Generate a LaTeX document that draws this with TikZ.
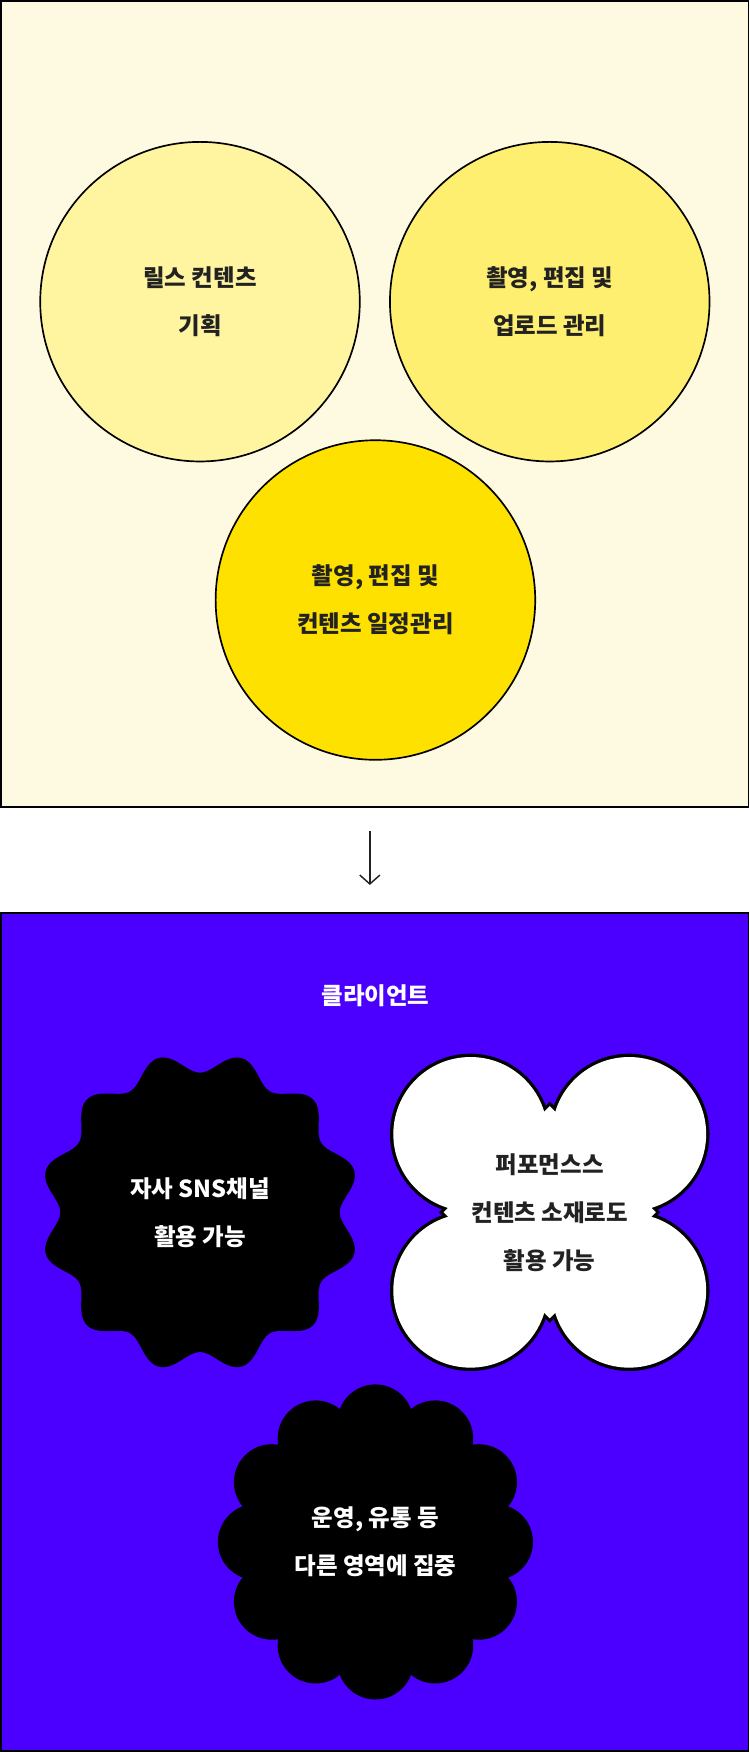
\documentclass[tikz,border=0pt]{standalone}
\usepackage{fontspec}
\setmainfont{Noto Sans CJK KR}
\usepackage{tikz}
\usetikzlibrary{arrows.meta, positioning}
\definecolor{cream}{HTML}{FEF9E1}
\definecolor{lightyellow}{HTML}{FFF4A0}
\definecolor{midyellow}{HTML}{FFEF70}
\definecolor{deepyellow}{HTML}{FFE100}
\definecolor{violet}{HTML}{4B00FF}
\definecolor{ink}{HTML}{222222}
\tikzstyle{panel} = [draw=black, line width=1.5pt]
\tikzstyle{bubble} = [circle, minimum size=286pt, draw=black, line width=1.5pt, text=ink, align=center]
\tikzstyle{caption} = [align=center, font=\bfseries\fontsize{21}{43}\selectfont]
\tikzstyle{arrow} = [line width=1.3pt, draw=ink, -{Straight Barb[length=8pt, width=18pt]}]

\begin{document}
\begin{tikzpicture}[x=1pt, y=-1pt]
    \useasboundingbox (0,0) rectangle (671,1568);
    % top panel
    \draw [panel, fill=cream] (1,1) rectangle (670,722);
    \node (plan) [bubble, fill=lightyellow, caption] at (179,270) {릴스 컨텐츠\\기획};
    \node (upload) [bubble, fill=midyellow, caption] at (492,270) {촬영, 편집 및\\업로드 관리};
    \node (schedule) [bubble, fill=deepyellow, caption] at (336,537) {촬영, 편집 및\\컨텐츠 일정관리};

    \coordinate (a1) at (331,744);
    \coordinate (a2) at (331,792);
    \draw [arrow] (a1) -- (a2);

    % bottom panel
    \draw [panel, fill=violet] (1,817) rectangle (670,1567);
    \node (client) [caption, text=white] at (336,891) {클라이언트};

    % wavy badge
    \fill [black, shift={(179,1085)}, rotate=15] plot [domain=0:360, samples=240, smooth]
        (\x:{134+9*cos(12*\x)});
    \node (sns) [caption, text=white] at (179,1085) {자사 SNS채널\\활용 가능};

    % clover
    \begin{scope}[shift={(492,1085)}]
        \foreach \dx/\dy in {-71/-70, 71/-70, -71/70, 71/70}
            \fill [black] (\dx,\dy) circle (72);
        \fill [black] (0,-99) -- (99,0) -- (0,99) -- (-99,0) -- cycle;
        \foreach \dx/\dy in {-71/-70, 71/-70, -71/70, 71/70}
            \fill [white] (\dx,\dy) circle (69);
        \fill [white] (0,-95) -- (95,0) -- (0,95) -- (-95,0) -- cycle;
    \end{scope}
    \node (reuse) [caption, text=ink] at (492,1085) {퍼포먼스스\\컨텐츠 소재로도\\활용 가능};

    % scalloped flower
    \begin{scope}[shift={(336,1380)}]
        \fill [black] (0,0) circle (110);
        \foreach \a in {0,30,...,330}
            \fill [black] (\a:107) circle (34);
    \end{scope}
    \node (focus) [caption, text=white] at (336,1380) {운영, 유통 등\\다른 영역에 집중};
\end{tikzpicture}
\end{document}
